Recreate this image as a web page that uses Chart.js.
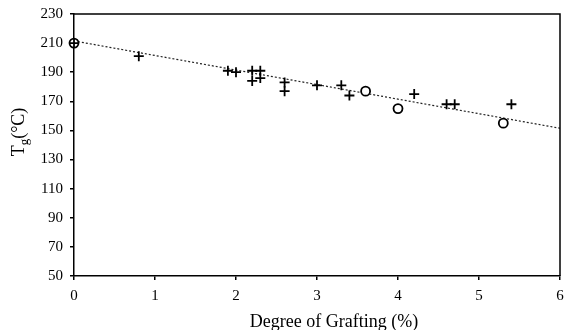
<!DOCTYPE html>
<html>
<head>
<meta charset="utf-8">
<script src="https://cdn.jsdelivr.net/npm/chart.js@4.4.1/dist/chart.umd.min.js"></script>
<style>
  html, body { margin: 0; padding: 0; background: #fff; }
  #wrap { width: 564px; height: 330px; position: relative; }
</style>
</head>
<body>
<div id="wrap"><canvas id="c"></canvas></div>
<script>
// Tg vs degree of grafting
const plusX = [0, 0.8, 1.9, 2.0, 2.2, 2.3, 2.2, 2.3, 2.6, 2.6, 3.0, 3.3, 3.4, 4.2, 4.6, 4.7, 5.4];
const plusY = [210, 201, 191, 190, 191, 191, 184, 186, 183, 177, 181, 181, 174, 175, 168, 168, 168];
const circX = [0, 3.6, 4.0, 5.3];
const circY = [210, 177, 165, 155];
const trendX = [0, 6];
const trendY = [211.5, 151.5];
const xTicks = [0, 1, 2, 3, 4, 5, 6];
const yTicks = [50, 70, 90, 110, 130, 150, 170, 190, 210, 230];
const xTitle = 'Degree of Grafting (%)';

const FONT = "'Liberation Serif', 'Times New Roman', serif";
const pts = (xs, ys) => xs.map((x, i) => ({ x: x, y: ys[i] }));

// box round the plot + both axis titles (y one needs a subscript)
const frame = {
  id: 'frame',
  afterDraw(chart) {
    const { ctx, chartArea: a } = chart;
    ctx.save();
    ctx.strokeStyle = '#000';
    ctx.lineWidth = 1.5;
    ctx.beginPath();
    ctx.moveTo(a.left, a.top);
    ctx.lineTo(a.right, a.top);
    ctx.lineTo(a.right, a.bottom);
    ctx.stroke();

    // x title sits a bit right of the plot centre in the original
    ctx.fillStyle = '#000';
    ctx.font = '18px ' + FONT;
    ctx.textAlign = 'center';
    ctx.textBaseline = 'alphabetic';
    ctx.fillText(xTitle, 334, 327);

    // y title, also a little above the plot centre
    ctx.translate(19, 132);
    ctx.rotate(-Math.PI / 2);
    ctx.textBaseline = 'middle';
    ctx.textAlign = 'left';
    ctx.font = '18px ' + FONT;
    const w1 = ctx.measureText('T').width;
    ctx.font = '13px ' + FONT;
    const w2 = ctx.measureText('g').width;
    ctx.font = '18px ' + FONT;
    const w3 = ctx.measureText('(°C)').width;
    let x = -(w1 + w2 + w3) / 2;
    ctx.fillText('T', x, 0);
    x += w1;
    ctx.font = '13px ' + FONT;
    ctx.fillText('g', x, 6);
    x += w2;
    ctx.font = '18px ' + FONT;
    ctx.fillText('(°C)', x, 0);
    ctx.restore();
  }
};

new Chart(document.getElementById('c'), {
  type: 'scatter',
  data: {
    datasets: [
      {
        type: 'line',
        data: pts(trendX, trendY),
        borderColor: '#222',
        borderWidth: 1.2,
        borderDash: [2, 2],
        pointRadius: 0,
        fill: false,
        order: 3
      },
      {
        data: pts(circX, circY),
        pointStyle: 'circle',
        pointRadius: 4.5,
        pointBorderWidth: 1.8,
        pointBorderColor: '#000',
        pointBackgroundColor: '#fff',
        order: 2
      },
      {
        data: pts(plusX, plusY),
        pointStyle: 'cross',
        pointRadius: 5,
        pointBorderWidth: 1.8,
        pointBorderColor: '#000',
        order: 1
      }
    ]
  },
  options: {
    responsive: true,
    maintainAspectRatio: false,
    animation: false,
    clip: false,
    layout: { autoPadding: false, padding: { top: 14, right: 4, left: 0, bottom: 0 } },
    plugins: { legend: { display: false }, tooltip: { enabled: false } },
    scales: {
      x: {
        type: 'linear',
        min: 0, max: 6,
        afterBuildTicks: s => { s.ticks = xTicks.map(v => ({ value: v })); },
        afterFit: s => { s.height = 54; s.paddingRight = 0; s.paddingLeft = 0; },
        border: { color: '#000', width: 1.5 },
        grid: { drawOnChartArea: false, drawTicks: true, tickLength: 4, color: '#000', lineWidth: 1.5 },
        ticks: { color: '#000', font: { family: FONT, size: 15 }, padding: 7, maxRotation: 0 }
      },
      y: {
        min: 50, max: 230,
        afterBuildTicks: s => { s.ticks = yTicks.map(v => ({ value: v })); },
        afterFit: s => { s.width = 74; s.paddingTop = 0; s.paddingBottom = 0; },
        border: { color: '#000', width: 1.5 },
        grid: { drawOnChartArea: false, drawTicks: true, tickLength: 4, color: '#000', lineWidth: 1.5 },
        ticks: { color: '#000', font: { family: FONT, size: 15 }, padding: 7 }
      }
    }
  },
  plugins: [frame]
});
</script>
</body>
</html>
